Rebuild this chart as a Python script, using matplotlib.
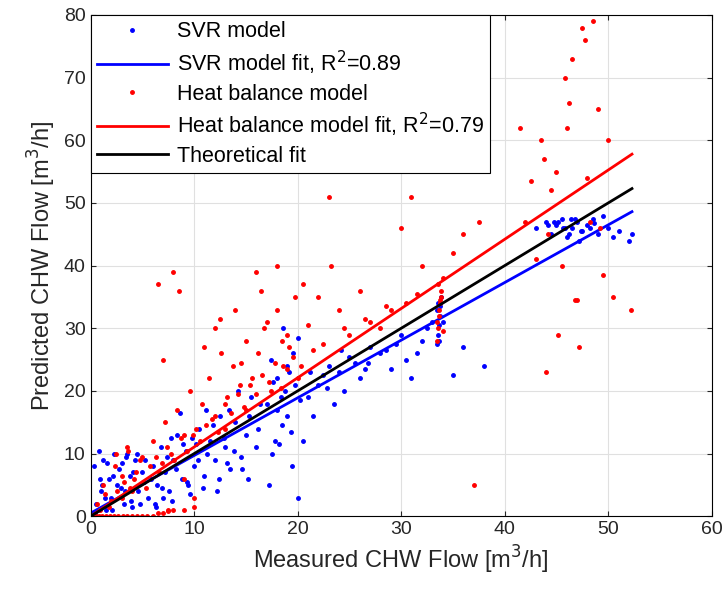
import numpy as np
import matplotlib.pyplot as plt

plt.rcParams['font.family'] = ['Liberation Sans', 'DejaVu Sans']

# points (measured, predicted)
svr_x = [0.3, 0.5, 0.8, 1.0, 1.2, 1.5, 1.8, 2.0, 2.3, 2.6, 3.0, 3.2, 3.5, 3.8, 4.0, 4.3, 4.6, 5.0,
         0.4, 0.9, 1.4, 2.1, 2.8, 3.3, 3.9, 4.5, 5.2, 5.6, 6.0, 6.4, 6.8, 7.2, 7.6, 8.0, 8.4, 8.8,
         9.2, 9.6, 10.0, 10.5, 11.0, 11.5, 12.0, 12.5, 13.0, 13.5, 14.0, 14.5, 15.0, 15.5, 16.0,
         6.2, 7.0, 7.8, 8.6, 9.4, 10.2, 11.2, 12.2, 13.2, 14.2, 15.2, 16.2, 17.0, 17.5, 18.0, 18.5,
         19.0, 19.5, 20.0, 17.2, 17.8, 18.4, 19.0, 19.6, 20.0, 19.8, 19.2, 18.6, 18.0, 17.4,
         21.0, 22.0, 23.0, 24.0, 25.0, 26.0, 27.0, 28.0, 29.0, 30.0, 31.0, 32.0, 33.0, 35.0, 36.0, 38.0,
         21.5, 22.5, 24.5, 26.5, 28.5, 30.5, 32.5, 20.5, 23.5, 25.5,
         33.5, 33.6, 33.7, 33.8, 33.5, 33.6, 33.9, 34.0, 33.7, 33.8,
         43.0, 44.0, 44.5, 45.0, 45.5, 46.0, 46.5, 47.0, 47.5, 48.0, 48.5, 49.0, 50.0, 51.0, 52.0,
         44.2, 45.2, 46.2, 47.2, 48.2, 49.5, 46.8, 45.8, 50.5, 52.3,
         1.1, 1.6, 2.2, 2.9, 3.4, 4.1, 4.8, 5.3, 5.8, 6.3, 6.9, 7.4, 7.9, 8.3, 8.9, 9.3, 9.8, 10.4,
         10.9, 11.3, 11.8, 12.4, 12.9, 13.4, 13.9, 14.6, 15.3, 16.4, 17.6, 18.2, 18.8, 19.4, 20.2,
         21.2, 22.8, 24.2, 26.8, 29.5, 31.5, 44.8, 45.6, 46.4, 47.4, 48.6]
svr_y = [8.0, 2.0, 10.5, 4.0, 9.0, 1.0, 6.0, 3.0, 10.0, 5.0, 8.5, 2.0, 10.0, 6.5, 1.5, 9.0, 4.0, 7.0,
         0.5, 6.0, 3.0, 1.0, 7.5, 4.0, 2.5, 10.0, 5.5, 3.0, 8.0, 5.0, 11.0, 7.0, 4.0, 9.0, 13.0, 6.0,
         10.5, 3.5, 8.0, 14.0, 6.5, 12.0, 9.0, 16.0, 11.0, 7.5, 15.0, 9.5, 13.0, 19.0, 11.0,
         2.0, 3.0, 12.5, 16.5, 5.0, 11.5, 17.0, 4.0, 8.5, 20.0, 6.0, 14.0, 18.0, 10.0, 22.0, 14.5,
         24.0, 8.0, 28.5, 5.0, 12.0, 19.0, 16.0, 26.0, 3.0, 21.0, 23.0, 30.0, 17.0, 25.0,
         19.0, 21.0, 24.0, 23.0, 25.5, 22.0, 27.0, 26.0, 23.5, 29.0, 22.0, 28.0, 31.0, 22.5, 27.0, 24.0,
         16.0, 22.5, 20.0, 23.5, 26.5, 25.0, 30.0, 12.0, 18.0, 24.5,
         27.5, 29.0, 30.5, 32.0, 33.0, 34.0, 35.0, 31.0, 28.0, 33.5,
         46.0, 47.0, 45.0, 46.5, 47.5, 44.5, 46.0, 47.0, 45.5, 46.5, 47.5, 45.0, 46.0, 45.5, 44.0,
         46.5, 47.0, 45.0, 44.0, 46.0, 48.0, 47.5, 46.0, 44.5, 45.0,
         5.0, 8.5, 6.5, 4.5, 9.5, 7.0, 2.0, 9.0, 6.0, 1.5, 4.5, 9.5, 2.5, 7.5, 11.5, 5.5, 12.5, 9.0,
         4.5, 10.0, 14.5, 6.0, 12.5, 17.0, 10.5, 7.5, 16.0, 18.0, 21.5, 11.5, 20.0, 13.5, 18.5,
         23.0, 20.5, 26.5, 24.5, 27.5, 26.0, 47.0, 46.0, 47.5, 45.5, 46.8]
hb_x = [0.2, 0.5, 0.8, 1.1, 1.5, 1.9, 2.3, 2.7, 3.1, 3.5, 4.0, 4.5, 5.0, 5.5, 6.0, 6.5, 7.0, 7.5, 8.0, 9.0, 10.0,
        0.6, 1.2, 1.8, 2.4, 3.0, 3.6, 4.2, 4.8, 5.4, 6.0, 6.6, 7.2, 7.8, 8.4, 9.0, 9.6, 10.2, 10.8, 11.4, 12.0,
        12.6, 13.2, 13.8, 14.4, 15.0, 15.6, 16.2, 16.8, 17.4, 18.0, 18.6, 19.2, 19.8,
        6.5, 7.0, 8.0, 8.5, 9.0, 10.0, 11.0, 12.0, 13.0, 14.0, 15.0, 16.0, 17.0, 18.0, 19.0, 20.0,
        2.5, 3.0, 3.5, 4.0, 5.0, 7.5, 12.5, 14.5, 16.5, 18.5, 20.5, 21.0, 22.0, 23.0, 23.2, 24.0,
        25.0, 26.0, 27.0, 28.0, 29.0, 30.0, 30.5, 31.0, 32.0, 35.0, 36.0, 37.0, 37.5,
        33.5, 33.6, 33.7, 33.8, 33.9, 34.0, 33.5, 33.7, 33.9, 34.0,
        41.5, 42.0, 43.0, 43.5, 44.0, 44.5, 45.0, 45.5, 46.0, 46.5, 47.0, 47.5, 48.0, 48.5, 49.0, 49.5,
        50.0, 50.5, 52.2, 44.2, 45.2, 46.2, 47.2, 48.2, 43.8, 46.8, 47.8, 49.2, 45.8, 42.5,
        0.9, 1.4, 2.0, 2.6, 3.2, 3.8, 4.4, 5.1, 5.7, 6.3, 6.9, 7.4, 8.1, 8.7, 9.3, 9.9, 10.6, 11.2,
        11.7, 12.3, 13.0, 13.6, 14.2, 14.8, 15.4, 16.0, 16.6, 17.2, 17.8, 18.4, 19.0, 19.6, 20.3,
        21.5, 22.5, 24.5, 26.5, 28.5, 31.5, 33.6, 33.8]
hb_y = [0.0, 0.0, 0.0, 0.0, 0.0, 0.0, 0.0, 0.0, 0.0, 0.0, 0.0, 0.0, 0.0, 0.0, 0.0, 0.5, 0.5, 0.8, 1.0, 1.0, 1.5,
        2.0, 5.0, 1.5, 8.0, 3.0, 10.5, 6.0, 9.0, 4.5, 12.0, 7.0, 15.0, 10.0, 17.0, 13.0, 20.0, 14.0, 18.0, 22.0, 16.0,
        26.0, 19.0, 24.0, 21.0, 28.0, 22.0, 26.0, 30.0, 20.0, 33.0, 24.0, 27.0, 35.0,
        37.0, 25.0, 39.0, 36.0, 6.0, 3.0, 27.0, 30.0, 14.0, 33.0, 17.0, 39.0, 31.0, 40.0, 29.0, 22.0,
        10.0, 6.5, 11.0, 4.0, 9.5, 1.0, 31.5, 24.5, 36.0, 28.0, 37.0, 30.5, 35.0, 51.0, 40.0, 33.0,
        29.0, 36.0, 31.0, 30.0, 33.0, 46.0, 34.0, 51.0, 40.0, 42.0, 45.0, 5.0, 47.0,
        28.0, 30.0, 32.0, 34.0, 36.0, 38.0, 31.0, 33.0, 35.0, 29.5,
        62.0, 47.0, 41.0, 60.0, 23.0, 52.0, 55.0, 40.0, 62.0, 73.0, 34.5, 78.0, 54.0, 79.0, 65.0, 38.5,
        60.0, 35.0, 33.0, 45.0, 29.0, 66.0, 27.0, 47.0, 57.0, 34.5, 76.0, 46.0, 70.0, 53.5,
        1.0, 3.5, 2.5, 4.0, 5.5, 4.5, 7.0, 5.5, 8.0, 9.5, 8.5, 11.0, 9.0, 12.5, 10.5, 13.0, 12.0, 14.5,
        15.5, 13.5, 18.0, 16.5, 19.5, 17.5, 21.0, 19.5, 22.5, 21.5, 24.5, 20.5, 23.5, 25.5, 24.0,
        26.5, 27.5, 30.0, 31.5, 33.5, 35.5, 37.0, 34.5]

# fitted lines: slope, intercept
svr_fit = [0.92, 0.5]
hb_fit = [1.105, 0.0]
fit_x = [0, 52.3]

fig, ax = plt.subplots(figsize=(7.24, 5.99), dpi=100)
fit_x = np.array(fit_x)
ax.plot(svr_x, svr_y, '.', color='blue', ms=5, label='SVR model')
ax.plot(fit_x, svr_fit[0] * fit_x + svr_fit[1], color='blue', lw=2, label='SVR model fit, R$^2$=0.89')
ax.plot(hb_x, hb_y, '.', color='red', ms=5, label='Heat balance model')
ax.plot(fit_x, hb_fit[0] * fit_x + hb_fit[1], color='red', lw=2, label='Heat balance model fit, R$^2$=0.79')
ax.plot(fit_x, fit_x, color='black', lw=2, label='Theoretical fit')

ax.set_xlim(0, 60)
ax.set_ylim(0, 80)
ax.set_xticks(range(0, 61, 10))
ax.set_yticks(range(0, 81, 10))
ax.grid(True, color='#e0e0e0', lw=0.8)
ax.set_axisbelow(True)
ax.tick_params(labelsize=14, direction='in', top=True, right=True, colors='#262626')
ax.set_xlabel('Measured CHW Flow [m$^3$/h]', fontsize=17, color='#262626')
ax.set_ylabel('Predicted CHW Flow [m$^3$/h]', fontsize=17, color='#262626')
ax.legend(loc='upper left', fontsize=15.5, fancybox=False, edgecolor='black',
          framealpha=1, borderaxespad=0, handlelength=3.3, handletextpad=0.4,
          labelspacing=0.3, borderpad=0.3)
ax.legend_.get_frame().set_linewidth(0.8)
plt.subplots_adjust(left=0.125, right=0.983, top=0.975, bottom=0.138)
fig.savefig('out.png')
